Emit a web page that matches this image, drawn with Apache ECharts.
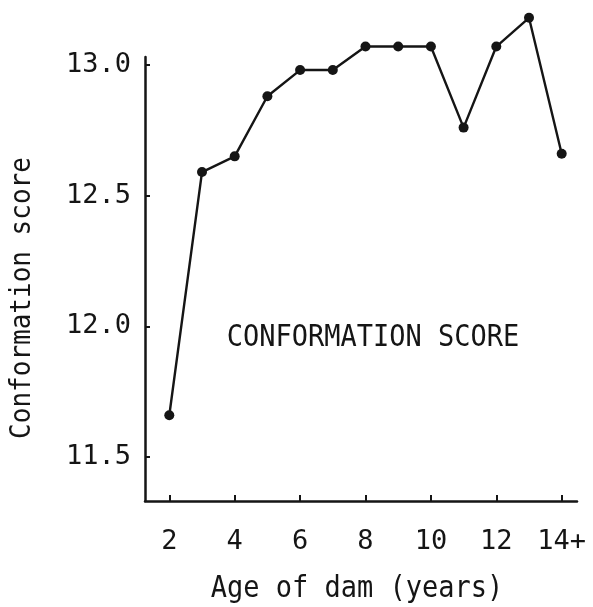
<!DOCTYPE html>
<html>
<head>
<meta charset="utf-8">
<script src="https://cdn.jsdelivr.net/npm/echarts@6/dist/echarts.min.js"></script>
<style>html,body{margin:0;padding:0;background:#fff;}#c{width:593px;height:607px;}</style>
</head>
<body>
<div id="c"></div>
<script>
const ages = [2, 3, 4, 5, 6, 7, 8, 9, 10, 11, 12, 13, 14];
const scores = [11.66, 12.59, 12.65, 12.88, 12.98, 12.98, 13.07, 13.07, 13.07, 12.76, 13.07, 13.18, 12.66];
const xTickValues = [2, 4, 6, 8, 10, 12, 14];
const xTickLabels = ['2', '4', '6', '8', '10', '12', '14+'];
const yTickValues = [11.5, 12.0, 12.5, 13.0];
const yTickLabels = ['11.5', '12.0', '12.5', '13.0'];

const FONT = 'DejaVu Sans Mono';
const INK = '#151515';

const chart = echarts.init(document.getElementById('c'), null, {renderer: 'canvas'});
chart.setOption({
  backgroundColor: '#fff',
  animation: false,
  grid: {left: 145, right: 16, top: 57, bottom: 106},
  xAxis: {
    type: 'value', min: 1.257, max: 14.468,
    axisLine: {show: true, lineStyle: {color: INK, width: 2.5}},
    axisTick: {show: true, customValues: xTickValues, inside: true, length: 6, lineStyle: {color: INK, width: 2}},
    axisLabel: {customValues: xTickValues, margin: 27, fontFamily: FONT, fontSize: 27, color: INK,
      formatter: v => xTickLabels[xTickValues.indexOf(v)]},
    splitLine: {show: false}
  },
  yAxis: {
    type: 'value', min: 11.332, max: 13.03,
    axisLine: {show: true, lineStyle: {color: INK, width: 2.5}},
    axisTick: {show: true, customValues: yTickValues, inside: true, length: 5, lineStyle: {color: INK, width: 2}},
    axisLabel: {customValues: yTickValues, margin: 14, fontFamily: FONT, fontSize: 27, color: INK,
      formatter: v => yTickLabels[yTickValues.indexOf(v)]},
    splitLine: {show: false}
  },
  graphic: [
    {type: 'text', x: 23, y: 298, rotation: Math.PI / 2, scaleY: 1.1,
      style: {text: 'Conformation score', font: '26px "DejaVu Sans Mono"', fill: INK, textAlign: 'center', textVerticalAlign: 'middle'}},
    {type: 'text', x: 357, y: 589, scaleY: 1.1,
      style: {text: 'Age of dam (years)', font: '27px "DejaVu Sans Mono"', fill: INK, textAlign: 'center', textVerticalAlign: 'middle'}},
    {type: 'text', x: 373, y: 338, scaleY: 1.1,
      style: {text: 'CONFORMATION SCORE', font: '27px "DejaVu Sans Mono"', fill: INK, textAlign: 'center', textVerticalAlign: 'middle'}}
  ],
  series: [{
    type: 'line',
    data: ages.map((a, i) => [a, scores[i]]),
    clip: false,
    symbol: 'circle', symbolSize: 10,
    lineStyle: {color: INK, width: 2.4},
    itemStyle: {color: INK}
  }]
});
</script>
</body>
</html>
